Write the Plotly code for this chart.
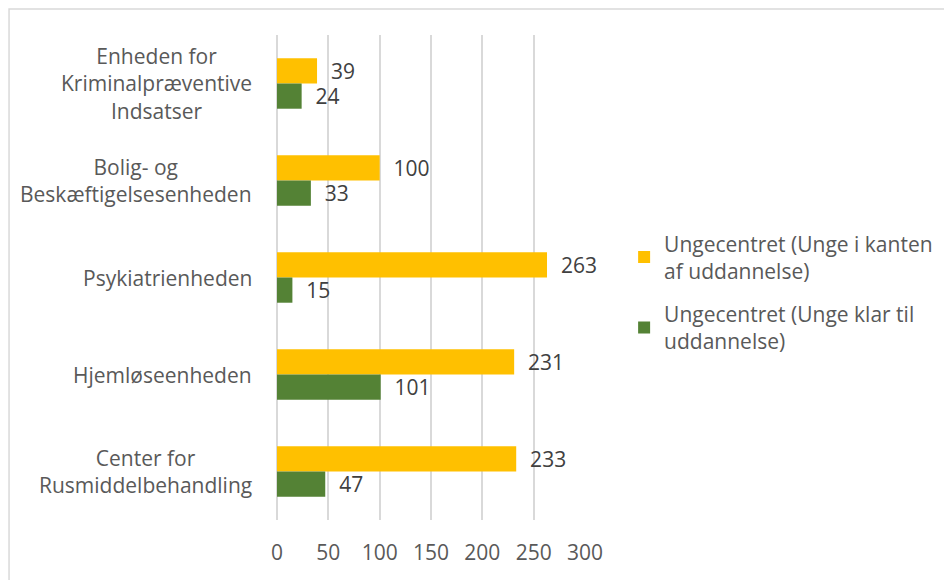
import plotly.graph_objects as go

categories = [
    "Enheden for<br>Kriminalpræventive<br>Indsatser",
    "Bolig- og<br>Beskæftigelsesenheden",
    "Psykiatrienheden",
    "Hjemløseenheden",
    "Center for<br>Rusmiddelbehandling",
]
series_names = [
    "Ungecentret (Unge i kanten<br>af uddannelse)",
    "Ungecentret (Unge klar til<br>uddannelse)",
]
kanten_values = [39, 100, 263, 231, 233]
klar_values = [24, 33, 15, 101, 47]
colors = ["#FFC000", "#548235"]
x_ticks = [0, 50, 100, 150, 200, 250, 300]

FONT = "Open Sans"
FS = 21
fig = go.Figure()
for i, (name, vals, col) in enumerate(zip(series_names, [kanten_values, klar_values], colors)):
    fig.add_trace(go.Bar(
        y=categories, x=vals, name=name, orientation="h",
        legendgroup=f"g{i}",
        marker=dict(color=col, line=dict(width=0)),
        text=[f"  {v}" for v in vals], textposition="outside",
        constraintext="none",
        textfont=dict(family=FONT, size=FS, color="#404040"),
        cliponaxis=False,
    ))

annotations = []
for c in categories:
    annotations.append(dict(
        x=-0.075, xref="paper", y=c, yref="y", text=c, showarrow=False,
        xanchor="right", yanchor="middle", align="center",
        font=dict(family=FONT, size=FS, color="#595959"),
    ))

fig.update_layout(
    width=944, height=572,
    margin=dict(l=269, r=367, t=27, b=60, autoexpand=False),
    paper_bgcolor="white", plot_bgcolor="white",
    barmode="group", bargap=0.48, bargroupgap=0,
    uniformtext=dict(mode=False),
    font=dict(family=FONT, size=FS, color="#595959"),
    xaxis=dict(range=[0, 300], tickvals=x_ticks, showgrid=True,
               gridcolor="#D9D9D9", gridwidth=1.5, zeroline=True,
               zerolinecolor="#D9D9D9", zerolinewidth=1.5,
               showline=False, ticks="outside", ticklen=14,
               tickcolor="rgba(0,0,0,0)",
               tickfont=dict(family=FONT, size=FS, color="#595959")),
    yaxis=dict(categoryorder="array", categoryarray=categories,
               autorange="reversed", showticklabels=False, showgrid=False,
               showline=False, ticks=""),
    legend=dict(x=1.127, y=0.612, xanchor="left", yanchor="top",
                font=dict(family=FONT, size=FS, color="#595959"),
                itemsizing="constant", tracegroupgap=13, itemwidth=30,
                bgcolor="rgba(0,0,0,0)"),
    annotations=annotations,
    shapes=[dict(type="rect", xref="paper", yref="paper",
                 x0=-0.870, x1=2.4, y0=-0.3, y1=1.0536,
                 line=dict(color="#D9D9D9", width=1.5), fillcolor="rgba(0,0,0,0)",
                 layer="below")],
)

fig.write_html("out.html")
